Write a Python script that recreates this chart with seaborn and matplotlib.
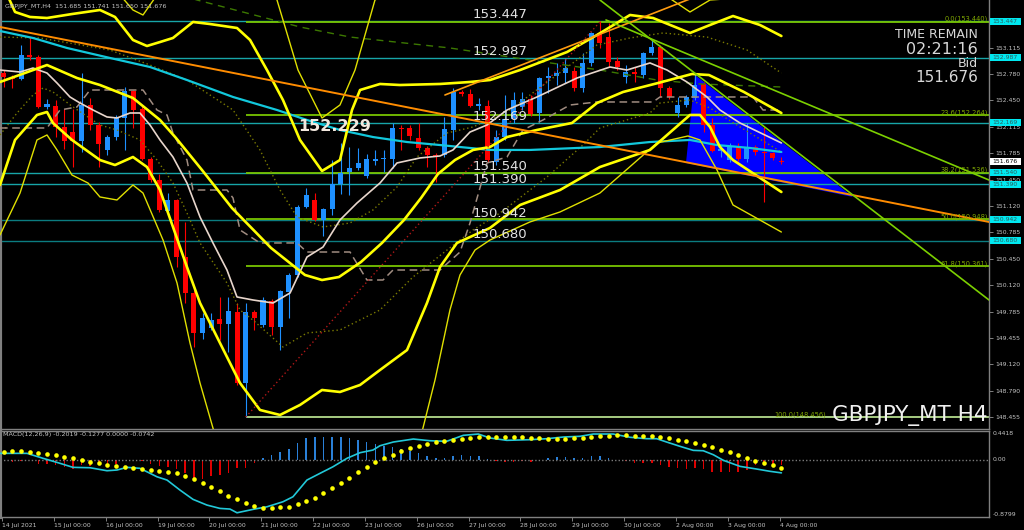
import matplotlib
matplotlib.use("Agg")
import matplotlib.pyplot as plt
import matplotlib.transforms as mtrans
from matplotlib.patches import Polygon, Rectangle
import numpy as np
import pandas as pd
import seaborn as sns

# ---------------- values ----------------
# GBPJPY_MT H4 candles, 14 Jul 2021 00:00 .. 4 Aug 2021 00:00 (bar 0..90)
opens = [152.799, 152.749, 152.716, 153.022, 152.993, 152.371, 152.379, 152.111, 152.055, 151.942,
         152.392, 152.140, 151.825, 151.985, 152.224, 152.572, 152.338, 151.707, 151.446, 151.059,
         151.194, 150.471, 150.017, 149.521, 149.576, 149.690, 149.630, 149.785, 148.883, 149.785,
         149.618, 149.924, 149.596, 150.038, 150.248, 151.102, 151.194, 150.942, 151.077, 151.396,
         151.551, 151.594, 151.497, 151.690, 151.707, 151.707, 152.106, 152.098, 151.972, 151.846,
         151.761, 151.761, 152.077, 152.560, 152.531, 152.383, 152.379, 151.677, 151.992, 152.212,
         152.371, 152.464, 152.287, 152.729, 152.758, 152.799, 152.824, 152.603, 152.918, 153.296,
         153.250, 152.951, 152.749, 152.812, 152.770, 153.044, 153.120, 152.603, 152.295, 152.392,
         152.476, 152.657, 152.140, 151.818, 151.698, 151.875, 151.707, 151.859, 151.803, 151.783,
         151.685]
highs = [152.833, 152.770, 153.149, 153.249, 153.022, 152.468, 152.455, 152.341, 152.341, 152.799,
         152.480, 152.181, 152.014, 152.266, 152.623, 152.581, 152.392, 151.736, 151.522, 151.286,
         151.207, 150.920, 150.059, 149.769, 149.769, 149.971, 149.971, 149.895, 149.895, 149.807,
         149.971, 149.946, 150.059, 150.273, 151.131, 151.341, 151.282, 151.093, 151.698, 151.917,
         151.862, 151.850, 151.774, 151.825, 151.825, 152.161, 152.140, 152.140, 152.161, 151.875,
         151.787, 152.244, 152.603, 152.581, 152.590, 152.480, 152.455, 152.077, 152.518, 152.560,
         152.560, 152.518, 152.749, 152.875, 152.922, 152.985, 152.875, 153.048, 153.316, 153.447,
         153.422, 153.001, 152.896, 152.875, 153.064, 153.212, 153.149, 152.632, 152.497, 152.518,
         152.800, 152.682, 152.228, 151.888, 151.913, 151.913, 152.161, 151.888, 152.118, 151.803,
         151.741]
lows = [152.619, 152.606, 152.707, 152.959, 152.354, 152.341, 151.992, 151.837, 151.614, 151.803,
        152.077, 151.614, 151.761, 151.951, 151.825, 152.102, 151.698, 151.425, 151.046, 151.043,
        150.353, 149.891, 149.344, 149.441, 149.555, 149.429, 149.281, 148.861, 148.456, 149.555,
        149.593, 149.492, 149.302, 149.706, 150.223, 151.093, 150.929, 150.740, 151.005, 151.270,
        151.257, 151.572, 151.471, 151.635, 151.551, 151.594, 151.825, 151.951, 151.825, 151.614,
        151.425, 151.736, 151.951, 152.505, 152.367, 152.329, 151.673, 151.635, 151.951, 152.165,
        152.329, 152.253, 152.178, 152.539, 152.644, 152.669, 152.572, 152.556, 152.884, 153.111,
        152.875, 152.833, 152.666, 152.686, 152.732, 153.022, 152.497, 152.468, 152.244, 152.367,
        152.455, 152.055, 151.799, 151.740, 151.673, 151.686, 151.673, 151.761, 151.173, 151.698,
        151.650]
closes = [152.741, 152.720, 153.022, 152.993, 152.363, 152.405, 152.111, 151.942, 151.942, 152.392,
          152.140, 151.900, 151.985, 152.224, 152.572, 152.329, 151.707, 151.446, 151.068, 151.194,
          150.471, 150.017, 149.521, 149.710, 149.681, 149.630, 149.794, 148.886, 149.785, 149.710,
          149.933, 149.596, 150.050, 150.248, 151.110, 151.257, 150.942, 151.077, 151.396, 151.538,
          151.601, 151.664, 151.707, 151.707, 151.720, 152.106, 152.089, 152.001, 151.846, 151.761,
          151.749, 152.085, 152.560, 152.531, 152.383, 152.405, 151.698, 151.992, 152.212, 152.455,
          152.464, 152.278, 152.729, 152.761, 152.799, 152.855, 152.603, 152.918, 153.296, 153.170,
          152.938, 152.875, 152.812, 152.783, 153.044, 153.120, 152.603, 152.489, 152.392, 152.489,
          152.644, 152.140, 151.816, 151.831, 151.875, 151.707, 151.866, 151.803, 151.783, 151.720,
          151.676]

day_bars = [0, 6, 12, 18, 24, 30, 36, 42, 48, 54, 60, 66, 72, 78, 84, 90]
day_labels = ["14 Jul 2021", "15 Jul 00:00", "16 Jul 00:00", "19 Jul 00:00", "20 Jul 00:00",
              "21 Jul 00:00", "22 Jul 00:00", "23 Jul 00:00", "26 Jul 00:00", "27 Jul 00:00",
              "28 Jul 00:00", "29 Jul 00:00", "30 Jul 00:00", "2 Aug 00:00", "3 Aug 00:00",
              "4 Aug 00:00"]

# indicator traces (bar, price)
bb_mid = [(-0.44, 152.682), (5.00, 152.896), (8.47, 152.732), (11.13, 152.644), (14.95, 152.480),
          (18.08, 152.203), (19.93, 151.976), (22.94, 151.572), (26.41, 151.093), (30.93, 150.589),
          (34.86, 150.248), (36.83, 150.185), (38.80, 150.223), (41.34, 150.412), (43.77, 150.652),
          (46.32, 150.942), (48.29, 151.219), (50.25, 151.522), (52.22, 151.698), (54.31, 151.825),
          (56.27, 151.862), (58.24, 151.988), (61.71, 152.077), (65.76, 152.165), (68.66, 152.417),
          (71.67, 152.556), (75.72, 152.669), (79.65, 152.783), (81.62, 152.770), (85.67, 152.556),
          (90.0, 152.291)]
bb_up2 = [(-0.44, 153.981), (1.30, 153.565), (3.03, 153.502), (5.00, 153.489), (7.89, 153.539),
          (11.13, 153.590), (12.87, 153.502), (14.95, 153.212), (16.57, 153.136), (18.08, 153.186),
          (19.58, 153.237), (21.90, 153.439), (23.87, 153.413), (26.99, 153.363), (28.50, 153.212),
          (30.46, 152.833), (32.31, 152.455), (34.28, 151.951), (36.83, 151.560), (38.91, 151.698),
          (40.30, 152.329), (41.23, 152.581), (43.54, 152.657), (45.86, 152.644), (50.49, 152.657),
          (53.96, 152.682), (56.27, 152.707), (59.75, 152.833), (65.19, 153.060), (68.66, 153.275),
          (72.48, 153.527), (75.14, 153.489), (79.42, 153.300), (81.74, 153.401), (84.40, 153.514),
          (87.52, 153.401), (90.0, 153.262)]
bb_low2 = [(-0.44, 151.383), (1.30, 151.951), (3.84, 152.266), (5.00, 152.304), (5.69, 152.165),
           (7.89, 151.951), (11.13, 151.698), (12.87, 151.635), (14.95, 151.736), (16.57, 151.610),
           (18.08, 151.320), (19.58, 150.854), (21.20, 150.349), (22.71, 149.895), (25.02, 149.391),
           (27.34, 148.886), (29.65, 148.546), (31.97, 148.483), (34.28, 148.609), (36.83, 148.798),
           (38.91, 148.773), (41.23, 148.861), (43.54, 149.050), (46.67, 149.302), (48.98, 149.895),
           (50.49, 150.349), (52.45, 150.652), (56.27, 150.841), (59.75, 151.131), (64.38, 151.320),
           (69.00, 151.610), (74.79, 151.825), (79.42, 152.266), (80.58, 152.266), (81.74, 152.115),
           (82.89, 151.862), (84.40, 151.698), (90.0, 151.295)]
bb_up3 = [(-0.44, 154.599), (5.00, 153.779), (11.13, 154.069), (13.45, 153.779), (14.95, 153.590),
          (16.11, 153.527), (17.73, 153.779), (22.71, 154.094), (28.50, 154.220), (31.62, 153.716),
          (34.05, 152.833), (36.83, 152.228), (38.91, 152.392), (40.65, 152.833), (42.96, 153.716),
          (48.17, 154.094), (57.43, 154.094), (69.00, 153.779), (74.79, 153.905), (79.42, 153.565),
          (81.74, 153.716), (90.0, 153.779)]
bb_low3 = [(-0.44, 150.753), (1.88, 151.282), (3.84, 151.951), (5.00, 152.014), (6.16, 151.825),
           (7.89, 151.509), (9.75, 151.408), (11.13, 151.232), (13.10, 151.194), (14.95, 151.383),
           (16.11, 151.282), (18.43, 150.689), (20.05, 150.147), (21.55, 149.391), (22.71, 148.886),
           (24.44, 148.231), (48.17, 148.168), (49.91, 148.924), (51.64, 149.807), (52.80, 150.248),
           (54.54, 150.563), (56.27, 150.689), (60.90, 150.917), (64.38, 151.043), (69.00, 151.282),
           (75.60, 151.913), (79.19, 152.001), (80.58, 151.951), (82.55, 151.572), (84.40, 151.131),
           (90.0, 150.790)]
ma_fast = [(-0.44, 152.833), (1.88, 152.808), (3.38, 152.858), (5.00, 152.795), (6.16, 152.669),
           (7.66, 152.493), (8.82, 152.417), (10.32, 152.329), (11.94, 152.241), (13.10, 152.228),
           (14.61, 152.291), (15.76, 152.291), (16.92, 152.140), (18.08, 151.951), (19.58, 151.736),
           (21.20, 151.408), (22.71, 150.980), (24.21, 150.652), (25.83, 150.311), (26.99, 149.971),
           (28.84, 149.933), (31.16, 149.895), (33.13, 150.021), (35.09, 150.475), (36.95, 150.601),
           (38.91, 150.942), (40.88, 151.156), (43.54, 151.408), (45.51, 151.661), (48.17, 151.724),
           (50.49, 151.749), (51.99, 151.825), (53.96, 152.051), (55.93, 152.140), (58.24, 152.329),
           (61.71, 152.493), (66.34, 152.732), (70.16, 152.871), (72.13, 152.833), (74.79, 152.922),
           (76.76, 152.833), (79.07, 152.682), (81.39, 152.493), (82.89, 152.329), (85.21, 152.165),
           (90.0, 151.913)]
kijun = [(-0.44, 152.102), (5.00, 152.102), (6.50, 152.329), (8.47, 152.367), (9.98, 152.581),
         (16.11, 152.581), (17.73, 152.329), (18.89, 152.266), (19.58, 152.039), (21.20, 151.698),
         (21.90, 151.320), (25.83, 151.320), (26.53, 151.219), (27.34, 150.816), (29.65, 150.652),
         (33.94, 150.652), (35.09, 150.538), (40.07, 150.538), (42.03, 150.185), (43.89, 150.185),
         (45.05, 150.311), (50.49, 150.311), (52.80, 150.538), (53.96, 150.904), (55.93, 151.661),
         (58.24, 151.736), (60.09, 152.077), (62.41, 152.203), (65.53, 152.392), (68.66, 152.430),
         (75.14, 152.430), (75.95, 152.493), (86.71, 152.493), (87.87, 152.329), (90.0, 152.329)]
ma_olive_hi = [(-0.44, 153.249), (4.19, 153.237), (12.29, 153.085), (16.92, 152.896), (21.20, 152.707),
               (26.53, 152.329), (29.65, 151.825), (31.97, 151.320), (33.94, 150.980), (36.95, 150.854),
               (40.07, 150.904), (42.73, 151.068), (45.51, 151.358), (47.82, 151.736), (51.30, 152.039),
               (54.31, 152.115), (58.59, 152.329), (63.22, 152.707), (68.66, 153.149), (72.48, 153.237),
               (76.30, 153.300), (81.39, 153.249), (86.02, 153.085), (90.0, 152.795)]
ma_olive_lo = [(-0.44, 152.014), (1.53, 152.291), (3.38, 152.518), (4.54, 152.606), (5.69, 152.556),
               (8.01, 152.367), (11.13, 152.140), (13.10, 152.077), (15.76, 151.951), (17.73, 151.698),
               (19.58, 151.408), (21.20, 151.030), (22.71, 150.652), (25.83, 150.147), (27.34, 149.807),
               (28.84, 149.680), (32.31, 149.340), (35.09, 149.517), (38.91, 149.555), (43.54, 149.807),
               (47.36, 150.223), (51.30, 150.563), (54.31, 150.816), (57.43, 151.030), (62.87, 151.484),
               (67.04, 151.888), (69.00, 152.102), (71.32, 152.178), (74.79, 152.291), (75.95, 152.417),
               (79.42, 152.455), (81.74, 152.354), (85.21, 152.115), (90.0, 151.799)]
ma_green = [(11.13, 154.094), (22.36, 153.716), (34.28, 153.376), (40.07, 153.249), (51.64, 153.111),
            (60.90, 152.959), (69.00, 152.833), (75.60, 152.707), (80.58, 152.657), (90.0, 152.619)]
ma_cyan = [(-0.44, 153.325), (3.38, 153.237), (7.31, 153.111), (12.29, 152.985), (16.92, 152.871),
           (21.20, 152.707), (26.53, 152.493), (31.62, 152.329), (35.09, 152.203), (38.91, 152.077),
           (42.73, 151.988), (46.67, 151.925), (50.49, 151.887), (56.27, 151.825), (60.90, 151.825),
           (69.00, 151.862), (74.79, 151.925), (79.42, 151.951), (82.55, 151.887), (86.37, 151.850),
           (90.0, 151.799)]

# chart objects
trend_orange_down = [(-0.44, 153.376), (114.03, 150.917)]
trend_orange_up = [(51.06, 152.518), (80.58, 153.779)]
trend_green_a = [(69.7, 153.464), (114.03, 151.446)]
trend_green_b = [(69.0, 153.716), (114.03, 149.933)]
fib_line = [(28.0, 148.456), (69.0, 153.440)]
triangle = [(80.0, 152.770), (78.96, 151.661), (98.3, 151.232)]
levels = [153.447, 152.987, 152.169, 151.540, 151.390, 150.942, 150.680]
fib_pcts = ["0.0", "23.6", "38.2", "50.0", "61.8", "100.0"]
fib_levels = [153.440, 152.264, 151.536, 150.948, 150.361, 148.456]
price_ticks = [153.115, 152.780, 152.450, 152.115, 151.785, 151.450, 151.120, 150.785,
               150.450, 150.120, 149.785, 149.455, 149.120, 148.790, 148.455]
bid = 151.676

# MACD(12,26,9)
macd_signal = [0.123, 0.134, 0.134, 0.123, 0.108, 0.088, 0.072, 0.046, 0.022, -0.005,
               -0.031, -0.046, -0.082, -0.097, -0.117, -0.123, -0.138, -0.158, -0.174, -0.189,
               -0.209, -0.251, -0.302, -0.354, -0.425, -0.486, -0.554, -0.609, -0.671, -0.712,
               -0.738, -0.748, -0.732, -0.723, -0.686, -0.635, -0.585, -0.508, -0.431, -0.354,
               -0.277, -0.194, -0.108, -0.035, 0.024, 0.080, 0.129, 0.180, 0.215, 0.246,
               0.268, 0.283, 0.298, 0.318, 0.334, 0.345, 0.345, 0.345, 0.345, 0.345,
               0.345, 0.334, 0.334, 0.323, 0.323, 0.323, 0.334, 0.334, 0.349, 0.360,
               0.369, 0.375, 0.375, 0.369, 0.369, 0.360, 0.349, 0.334, 0.308, 0.283,
               0.257, 0.222, 0.191, 0.154, 0.114, 0.068, 0.026, -0.015, -0.051, -0.086,
               -0.1277]
macd_hist = [-0.005, -0.036, -0.026, -0.005, -0.062, -0.072, -0.087, -0.113, -0.138, -0.087,
             -0.103, -0.087, -0.062, -0.062, -0.010, -0.005, -0.021, -0.062, -0.103, -0.113,
             -0.138, -0.205, -0.292, -0.292, -0.256, -0.241, -0.205, -0.123, -0.123, -0.051,
             0.031, 0.067, 0.118, 0.169, 0.256, 0.338, 0.349, 0.349, 0.349, 0.349,
             0.338, 0.308, 0.272, 0.246, 0.205, 0.188, 0.164, 0.138, 0.103, 0.062,
             0.026, 0.026, 0.051, 0.072, 0.062, 0.051, 0.005, -0.026, -0.041, -0.041,
             -0.026, -0.041, -0.005, 0.021, 0.036, 0.046, 0.026, 0.026, 0.051, 0.051,
             0.021, 0.003, -0.026, -0.056, -0.051, -0.051, -0.082, -0.108, -0.133, -0.144,
             -0.128, -0.144, -0.185, -0.195, -0.185, -0.185, -0.154, -0.082, -0.077, -0.067,
             -0.0742]
macd_bars = [-0.44, 2.69, 4.54, 6.50, 8.01, 9.98, 11.94, 13.10, 14.26, 15.76, 17.73, 18.89, 20.39,
             21.90, 23.52, 25.02, 26.18, 26.99, 28.84, 30.46, 32.31, 33.47, 35.09, 36.60, 38.10,
             39.72, 41.23, 42.73, 43.54, 45.08, 47.40, 49.33, 51.26, 53.18, 54.92, 56.27, 58.21,
             60.90, 62.83, 64.76, 66.69, 68.23, 70.54, 72.48, 74.41, 75.57, 76.72, 78.26, 79.80,
             80.96, 82.12, 83.28, 85.21, 87.14, 88.68, 90.0]
macd_main = [0.098, 0.098, 0.022, -0.055, -0.117, -0.123, -0.169, -0.158, -0.117, -0.132, -0.262,
             -0.312, -0.466, -0.609, -0.697, -0.748, -0.758, -0.815, -0.763, -0.723, -0.646, -0.569,
             -0.312, -0.209, -0.108, 0.022, 0.108, 0.149, 0.215, 0.272, 0.318, 0.292, 0.283, 0.375,
             0.395, 0.334, 0.298, 0.308, 0.323, 0.349, 0.360, 0.395, 0.395, 0.345, 0.323, 0.323,
             0.272, 0.206, 0.144, 0.138, 0.077, -0.009, -0.102, -0.143, -0.178, -0.2019]

# ---------------- style ----------------
sns.set_theme(style="dark", rc={"axes.facecolor": "black", "figure.facecolor": "black",
                                "axes.edgecolor": "#808080", "axes.grid": False})
plt.rcParams["font.family"] = ["DejaVu Sans"]

W, H = 1024, 530
fig = plt.figure(figsize=(W / 100, H / 100), dpi=100)
ax = fig.add_axes([0, 101 / H, 989 / W, 429 / H])
ax2 = fig.add_axes([0, 13 / H, 989 / W, 86 / H])
XMIN, XMAX = -0.44, 114.03
GRAY = "#c4c4c4"


def draw(a, pts, **kw):
    xs, ys = zip(*pts)
    sns.lineplot(x=list(xs), y=list(ys), ax=a, estimator=None, sort=False, **kw)


for a in (ax, ax2):
    a.set_facecolor("black")
    a.set_xlim(XMIN, XMAX)
    for s in a.spines.values():
        s.set_color("#808080")
        s.set_linewidth(1)
    a.spines["left"].set_linewidth(3)
ax.spines["top"].set_visible(False)
ax.set_ylim(148.306, 153.716)
ax2.set_ylim(-0.88, 0.4415)

# background objects
ax.add_patch(Polygon(triangle, closed=True, fc="#0000ff", ec="none", zorder=1))
for i, lv in enumerate(levels):
    ax.axhline(lv, color="#17a5a8" if i < 5 else "#0b7c80", lw=1, zorder=2)
for lv in fib_levels:
    ax.hlines(lv, 28, XMAX, color="#78c400" if lv > 148.5 else "#b4dc8c", lw=1.3, zorder=2)

# candles
df = pd.DataFrame({"o": opens, "h": highs, "l": lows, "c": closes})
df["bar"] = np.arange(len(df))
cols = np.where(df.c >= df.o, "#1e90ff", "#ff0000")
ax.vlines(df.bar, df.l, df.h, colors=cols, lw=0.8, zorder=3)
body = (df.c - df.o).abs().clip(lower=0.012)
ax.bar(df.bar, body, bottom=df[["o", "c"]].min(axis=1), width=0.58, color=cols, lw=0, zorder=3)

# indicators
draw(ax, ma_green, color="#3c7800", lw=1.0, linestyle=(0, (5, 4)), zorder=4)
draw(ax, ma_olive_hi, color="#7a7a00", lw=1.0, linestyle=(0, (1, 2)), zorder=4)
draw(ax, ma_olive_lo, color="#7a7a00", lw=1.0, linestyle=(0, (1, 2)), zorder=4)
draw(ax, kijun, color="#a08c80", lw=1.1, linestyle=(0, (5, 3)), zorder=4)
draw(ax, ma_cyan, color="#12c8dc", lw=1.6, zorder=4)
draw(ax, ma_fast, color="#e8d6cc", lw=1.2, zorder=4)
draw(ax, bb_up3, color="#e0e000", lw=1.0, zorder=4)
draw(ax, bb_low3, color="#e0e000", lw=1.0, zorder=4)
draw(ax, bb_up2, color="#ffff00", lw=1.9, zorder=4)
draw(ax, bb_mid, color="#ffff00", lw=1.9, zorder=4)
draw(ax, bb_low2, color="#ffff00", lw=1.9, zorder=4)

# trend lines
draw(ax, trend_orange_down, color="#ff8c00", lw=1.4, zorder=5)
draw(ax, trend_orange_up, color="#ff9c10", lw=1.2, zorder=5)
draw(ax, trend_green_a, color="#7cd000", lw=1.2, zorder=5)
draw(ax, trend_green_b, color="#7cd000", lw=1.2, zorder=5)
draw(ax, fib_line, color="#b01818", lw=1.0, linestyle=(0, (1, 2)), zorder=5)

# level texts (sit just above their lines)
for lv in levels:
    lift = 1 if lv == 151.390 else 3
    tr = mtrans.offset_copy(ax.transData, fig=fig, x=0, y=lift, units="dots")
    ax.text(54.2, lv, f"{lv:.3f}", transform=tr, color="#e2e2e2", fontsize=9.5,
            ha="left", va="baseline", zorder=6)
fib_tr = mtrans.offset_copy(ax.transData, fig=fig, x=0, y=1, units="dots")
for p, lv in zip(fib_pcts, fib_levels):
    # the 100.0 tag sits left of the big symbol caption so both stay readable
    fx = 95.2 if p == "100.0" else 113.9
    ax.text(fx, lv, f"{p}({lv:.3f})", transform=fib_tr, color="#80a800", fontsize=4.8,
            ha="right", va="baseline", zorder=6)
ax.text(34.05, 152.115, "152.229", color="#f2e8de", fontsize=11.5, fontweight="bold",
        ha="left", va="center", zorder=6)

# right price scale
ax.yaxis.tick_right()
ax.set_yticks(price_ticks)
ax.set_yticklabels([f"{v:.3f}" for v in price_ticks])
ax.tick_params(axis="y", right=True, left=False, length=3, width=0.7, color="#808080",
               labelcolor=GRAY, labelsize=4.4, pad=1.5)
ax.tick_params(axis="x", bottom=False, labelbottom=False)
ytr = mtrans.blended_transform_factory(ax.transAxes, ax.transData)
for lv in levels + [bid]:
    fc, tc = ("#ffffff", "#000000") if lv == bid else ("#00e8f0", "#2c5c5c")
    ax.add_patch(Rectangle((1.001, lv - 0.044), 0.0315, 0.088, transform=ytr, fc=fc, ec="none",
                           clip_on=False, zorder=9))
    ax.text(1.0035, lv, f"{lv:.3f}", transform=ytr, color=tc, fontsize=4.4, ha="left",
            va="center", clip_on=False, zorder=10)

# MACD panel
hcols = np.where(np.array(macd_hist) >= 0, "#2a80d8", "#e00000")
ax2.bar(np.arange(len(macd_hist)), macd_hist, width=0.18, color=hcols, lw=0, zorder=2)
ax2.axhline(0, color="#7a7a7a", lw=1, linestyle=(0, (1, 1.5)), zorder=2)
sns.lineplot(x=macd_bars, y=macd_main, ax=ax2, estimator=None, sort=False,
             color="#22c8d8", lw=1.2, zorder=3)
sns.scatterplot(x=np.arange(len(macd_signal)), y=macd_signal, ax=ax2, color="#ffff00",
                s=11, linewidth=0, zorder=4)
ax2.set_ylabel("")
ax2.set_yticks([])
ax2.set_xticks([b - 0.2 for b in day_bars])
ax2.set_xticklabels(day_labels, ha="left")
ax2.tick_params(axis="x", bottom=True, length=3, width=0.7, color="#808080",
                labelcolor=GRAY, labelsize=4.4, pad=1.2)
mtr = mtrans.blended_transform_factory(ax2.transAxes, ax2.transData)
ax2.text(1.004, 0.4418, "0.4418", transform=mtr, color=GRAY, fontsize=4.4, va="top",
         clip_on=False)
ax2.text(1.004, 0.0, "0.00", transform=mtr, color=GRAY, fontsize=4.4, va="center", clip_on=False)
ax2.text(1.004, -0.8799, "-0.8799", transform=mtr, color=GRAY, fontsize=4.4, va="bottom",
         clip_on=False)

# captions
fig.text(5 / W, 1 - 6.5 / H, "GBPJPY_MT,H4  151.685 151.741 151.650 151.676", color=GRAY,
         fontsize=4.6, ha="left", va="center")
fig.text(3 / W, 1 - 434.5 / H, "MACD(12,26,9) -0.2019 -0.1277 0.0000 -0.0742", color=GRAY,
         fontsize=4.6, ha="left", va="center")
for txt, base, size in [("TIME REMAIN", 38.3, 9), ("02:21:16", 53.6, 11.5),
                        ("Bid", 67.3, 9), ("151.676", 82.0, 11)]:
    fig.text(978 / W, 1 - base / H, txt, color="#d8d8d8", fontsize=size, ha="right",
             va="baseline")
fig.text(988 / W, 1 - 416 / H, "GBPJPY_MT H4", color="#f0f0f0", fontsize=15.5, ha="right",
         va="center")

fig.savefig("out.png", dpi=100, facecolor="black")
